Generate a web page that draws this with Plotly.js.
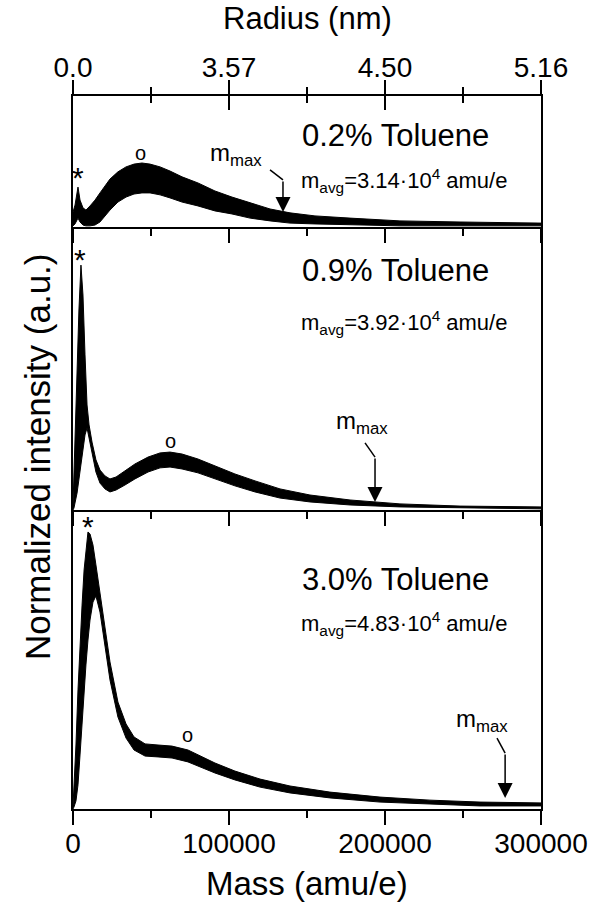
<!DOCTYPE html>
<html>
<head>
<meta charset="utf-8">
<script src="https://cdn.plot.ly/plotly-3.0.1.min.js"></script>
<style>html,body{margin:0;padding:0;background:#fff;}#chart{width:595px;height:905px;}</style>
</head>
<body>
<div id="chart"></div>
<script>
// ---------- data ----------
// Panel 1: 0.2% Toluene
var mass1 = [0,1300,3200,4500,6400,8300,10900,14100,17300,20500,23700,28800,34000,39100,44200,49400,55800,62200,69900,80100,91000,101900,113500,126300,139100,155100,177600,209600,248100,300000];
var upper1 = [0.054,0.079,0.144,0.097,0.069,0.061,0.076,0.097,0.123,0.148,0.173,0.199,0.217,0.227,0.231,0.227,0.217,0.202,0.181,0.159,0.130,0.108,0.087,0.065,0.051,0.040,0.032,0.022,0.018,0.014];
var lower1 = [0.004,0.011,0.032,0.018,0.007,0.004,0.004,0.007,0.018,0.040,0.061,0.090,0.108,0.119,0.123,0.123,0.116,0.105,0.090,0.076,0.058,0.047,0.032,0.022,0.014,0.011,0.007,0.004,0.004,0.004];
// Panel 2: 0.9% Toluene
var mass2 = [0,600,2600,3800,5100,6400,7700,9000,10300,12200,14700,17300,20500,23700,27600,33300,39700,48100,55800,62200,69900,80100,91000,103800,116700,132700,151900,177600,209600,248100,300000];
var upper2 = [0.018,0.144,0.469,0.722,0.884,0.776,0.560,0.379,0.307,0.245,0.181,0.144,0.123,0.112,0.119,0.141,0.166,0.191,0.206,0.209,0.202,0.184,0.159,0.130,0.105,0.076,0.054,0.036,0.022,0.014,0.011];
var lower2 = [0.000,0.007,0.061,0.112,0.166,0.217,0.271,0.296,0.260,0.195,0.137,0.097,0.076,0.065,0.072,0.090,0.112,0.137,0.152,0.155,0.148,0.134,0.112,0.087,0.065,0.043,0.029,0.018,0.011,0.007,0.004];
// Panel 3: 3.0% Toluene
var mass3 = [0,600,1900,3200,4500,5800,7100,8300,9600,10900,12800,14700,17300,20500,23700,28800,34000,39100,46200,54500,63500,73700,81400,91000,103800,119900,139100,164700,196800,228800,260900,300000];
var upper3 = [0.011,0.069,0.231,0.430,0.610,0.736,0.863,0.942,1.000,0.993,0.953,0.881,0.783,0.646,0.531,0.386,0.307,0.260,0.235,0.231,0.227,0.213,0.191,0.166,0.137,0.108,0.083,0.061,0.043,0.032,0.025,0.022];
var lower3 = [0.000,0.007,0.029,0.087,0.195,0.321,0.430,0.520,0.610,0.682,0.747,0.769,0.711,0.581,0.466,0.332,0.256,0.213,0.191,0.188,0.184,0.170,0.152,0.130,0.105,0.079,0.058,0.040,0.025,0.018,0.011,0.011];

var panelLabels = ["0.2% Toluene", "0.9% Toluene", "3.0% Toluene"];
var avgLabels = ["m<sub>avg</sub>=3.14\u00b710<sup>4</sup> amu/e", "m<sub>avg</sub>=3.92\u00b710<sup>4</sup> amu/e", "m<sub>avg</sub>=4.83\u00b710<sup>4</sup> amu/e"];
var mmaxMass = [134600, 193600, 277000];      // arrow position (mass)
var mmaxTip = [0.054, 0.029, 0.040];           // arrow tip intensity
var starMass = [3200, 4500, 9600];             // "*" peak
var starY = [0.180, 0.905, 1.020];
var circMass = [43000, 62800, 73700];          // "o" maximum
var circY = [0.267, 0.249, 0.267];

var massTicks = [0, 100000, 200000, 300000];
var massTickText = ["0", "100000", "200000", "300000"];
var radiusTickText = ["0.0", "3.57", "4.50", "5.16"];

// ---------- figure ----------
var FONT = "Arial, 'Liberation Sans', Helvetica, sans-serif";
var masses = [mass1, mass2, mass3], uppers = [upper1, upper2, upper3], lowers = [lower1, lower2, lower3];
var yrefs = ["y", "y2", "y3"], xrefs = ["x3", "x2", "x"];
var traces = [];
for (var i = 0; i < 3; i++) {
  traces.push({x: masses[i], y: lowers[i], xaxis: xrefs[i], yaxis: yrefs[i], type: "scatter", mode: "lines",
    line: {color: "black", width: 1}, hoverinfo: "skip", showlegend: false});
  traces.push({x: masses[i], y: uppers[i], xaxis: xrefs[i], yaxis: yrefs[i], type: "scatter", mode: "lines",
    fill: "tonexty", fillcolor: "black", line: {color: "black", width: 1}, hoverinfo: "skip", showlegend: false});
}
// invisible traces so the top (radius) axes get drawn
traces.push({x: [0, 300000], y: [0, 0], xaxis: "x4", yaxis: "y", type: "scatter", mode: "markers",
  marker: {opacity: 0, size: 1}, hoverinfo: "skip", showlegend: false});
traces.push({x: [0, 300000], y: [0, 0], xaxis: "x5", yaxis: "y", type: "scatter", mode: "markers",
  marker: {opacity: 0, size: 1}, hoverinfo: "skip", showlegend: false});

function xax(anchor, labels) {
  return {anchor: anchor, domain: [0, 1], range: [0, 300000], tickmode: "array", tickvals: massTicks, ticktext: massTickText,
    showticklabels: labels, ticks: "outside", ticklen: 14, tickwidth: 2, tickcolor: "black", ticklabelstandoff: -6,
    minor: {ticks: "outside", ticklen: 7, tickwidth: 2, tickcolor: "black", tick0: 0, dtick: 50000},
    showline: true, linewidth: 2, linecolor: "black", showgrid: false, zeroline: false,
    tickfont: {family: FONT, size: 28, color: "black"}, fixedrange: true};
}
function yax(domain, range, anchor) {
  return {anchor: anchor, domain: domain, range: range, showline: true, mirror: true, linewidth: 2, linecolor: "black",
    ticks: "", showticklabels: false, showgrid: false, zeroline: false, fixedrange: true};
}

var layout = {
  width: 595, height: 905, margin: {l: 73, r: 54, t: 96, b: 96},
  paper_bgcolor: "white", plot_bgcolor: "white", showlegend: false,
  font: {family: FONT, color: "black"},
  xaxis: xax("y3", true),
  xaxis2: xax("y2", false),
  xaxis3: xax("y", false),
  xaxis4: {overlaying: "x3", side: "top", anchor: "y", range: [0, 300000], tickmode: "array", tickvals: massTicks, ticktext: radiusTickText,
    ticks: "outside", ticklen: 14, tickwidth: 2, tickcolor: "black", ticklabelstandoff: -8,
    minor: {ticks: "outside", ticklen: 7, tickwidth: 2, tickcolor: "black", tick0: 0, dtick: 50000},
    showline: true, linewidth: 2, linecolor: "black", showgrid: false, zeroline: false,
    tickfont: {family: FONT, size: 28, color: "black"}, fixedrange: true},
  xaxis5: {overlaying: "x3", side: "top", anchor: "y", range: [0, 300000], tickmode: "array", tickvals: massTicks,
    showticklabels: false, ticks: "inside", ticklen: 14, tickwidth: 2, tickcolor: "black",
    minor: {ticks: "inside", ticklen: 7, tickwidth: 2, tickcolor: "black", tick0: 0, dtick: 50000},
    showline: false, showgrid: false, zeroline: false, fixedrange: true},
  yaxis: yax([0.8163, 1], [0, 0.473], "x3"),
  yaxis2: yax([0.4194, 0.8163], [0, 1.0217], "x2"),
  yaxis3: yax([0, 0.4194], [0, 1.0794], "x"),
  annotations: [],
  shapes: []
};

var labelY = [0.332, 0.863, 0.827];
var avgY = [0.168, 0.677, 0.669];
var mmaxTextMass = [104500, 185300, 262200];
var mmaxTextY = [0.26, 0.314, 0.321];
var arrowTopY = [0.170, 0.191, 0.202];
var leaderStart = [[126300, 0.206], [187200, 0.242], [271800, 0.256]];

for (var i = 0; i < 3; i++) {
  var xr = xrefs[i], yr = yrefs[i];
  layout.annotations.push({xref: xr, yref: yr, x: 207000, y: labelY[i], text: panelLabels[i], showarrow: false,
    xanchor: "center", yanchor: "middle", font: {family: FONT, size: 31, color: "black"}});
  layout.annotations.push({xref: xr, yref: yr, x: 145000, y: avgY[i], text: avgLabels[i], showarrow: false,
    xanchor: "left", yanchor: "middle", font: {family: FONT, size: 22, color: "black"}});
  layout.annotations.push({xref: xr, yref: yr, x: mmaxTextMass[i], y: mmaxTextY[i], text: "m<sub>max</sub>", showarrow: false,
    xanchor: "center", yanchor: "middle", font: {family: FONT, size: 24, color: "black"}});
  layout.annotations.push({xref: xr, yref: yr, x: mmaxMass[i], y: mmaxTip[i], axref: xr, ayref: yr, ax: mmaxMass[i], ay: arrowTopY[i],
    text: "", showarrow: true, arrowhead: 2, arrowsize: 2, arrowwidth: 1.5, arrowcolor: "black", standoff: 0});
  layout.annotations.push({xref: xr, yref: yr, x: starMass[i], y: starY[i], text: "*", showarrow: false,
    xanchor: "center", yanchor: "middle", font: {family: FONT, size: 30, color: "black"}});
  layout.annotations.push({xref: xr, yref: yr, x: circMass[i], y: circY[i], text: "o", showarrow: false,
    xanchor: "center", yanchor: "middle", font: {family: FONT, size: 20, color: "black"}});
  layout.shapes.push({type: "line", xref: xr, yref: yr, x0: leaderStart[i][0], y0: leaderStart[i][1], x1: mmaxMass[i], y1: arrowTopY[i],
    line: {color: "black", width: 1.5}});
}

layout.annotations.push({xref: "paper", yref: "paper", x: 0.5, y: 1.108, text: "Radius (nm)", showarrow: false,
  xanchor: "center", yanchor: "middle", font: {family: FONT, size: 31, color: "black"}});
layout.annotations.push({xref: "paper", yref: "paper", x: 0.5, y: -0.104, text: "Mass (amu/e)", showarrow: false,
  xanchor: "center", yanchor: "middle", font: {family: FONT, size: 33, color: "black"}});
layout.annotations.push({xref: "paper", yref: "paper", x: -0.077, y: 0.495, text: "Normalized intensity (a.u.)", showarrow: false,
  textangle: -90, xanchor: "center", yanchor: "middle", font: {family: FONT, size: 35, color: "black"}});

Plotly.newPlot("chart", traces, layout, {displayModeBar: false, staticPlot: true});
</script>
</body>
</html>
